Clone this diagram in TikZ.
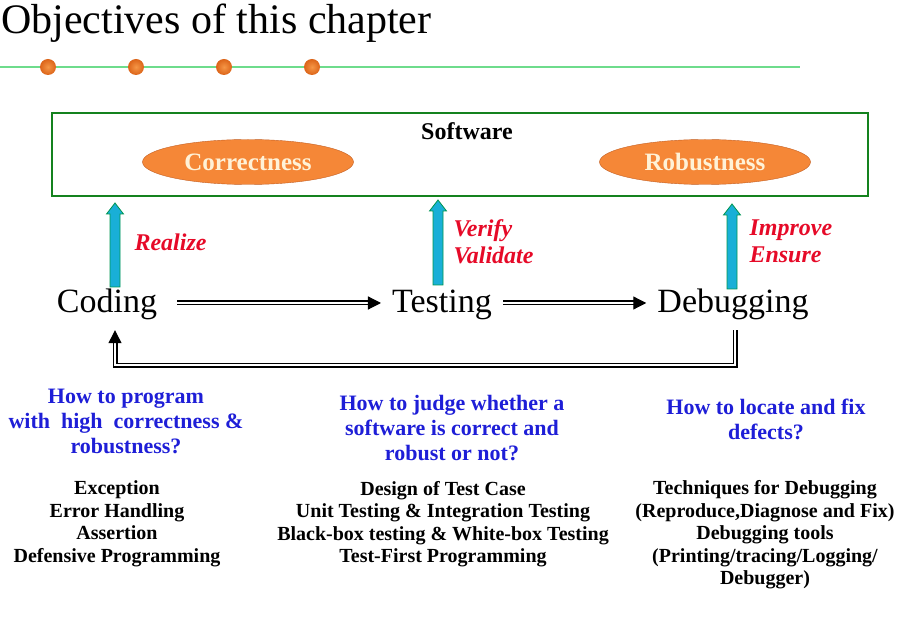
\documentclass[tikz,border=0pt]{standalone}
\usepackage{fontspec}
\setmainfont{Liberation Serif}
\usetikzlibrary{arrows.meta,shapes.geometric}

\definecolor{rulegreen}{RGB}{110,220,140}
\definecolor{boxgreen}{RGB}{20,130,30}
\definecolor{dotorange}{RGB}{220,100,25}
\definecolor{dotlight}{RGB}{245,150,70}
\definecolor{ovalfill}{RGB}{245,135,55}
\definecolor{ovalline}{RGB}{195,95,35}
\definecolor{ovaltext}{RGB}{255,242,215}
\definecolor{arrowcyan}{RGB}{25,175,215}
\definecolor{arrowline}{RGB}{0,150,80}
\definecolor{aimred}{RGB}{230,10,40}
\definecolor{askblue}{RGB}{30,30,215}

\begin{document}
\begin{tikzpicture}[x=1pt,y=-1pt,
		bead/.style={circle,shading=radial,inner color=dotlight,outer color=dotorange,minimum size=#1,inner sep=0pt},
		bead/.default=16pt,
		quality/.style={ellipse,draw=ovalline,fill=ovalfill,text=ovaltext,minimum width=211pt,minimum height=45pt,font=\fontsize{25}{29}\selectfont\bfseries},
		stage/.style={inner sep=11pt,text height=26pt,text depth=6pt,anchor=base,font=\fontsize{34}{40}\selectfont},
		upArrow/.style={draw=arrowline,fill=arrowcyan,line width=0.8pt},
		aim/.style={text=aimred,align=left,anchor=west,font=\fontsize{24}{27}\selectfont\bfseries\itshape},
		question/.style={text=askblue,align=center,font=\fontsize{22}{25}\selectfont\bfseries},
		topic/.style={align=center,font=\fontsize{20}{22.5}\selectfont\bfseries},
		flow/.style={double,double distance=2.6pt,line width=1.2pt,-{Triangle[length=13pt,width=13pt]}}]
		
		\useasboundingbox (0,0) rectangle (914,617);
		
		%heading
		\node[anchor=base west,inner sep=0pt,font=\fontsize{42}{48}\selectfont] (title) at (1,34) {Objectives of this chapter};
		\draw[rulegreen,line width=1.5pt] (0,67) -- (800,67);
		\foreach \x [count=\k] in {48,136,224,312}
		{
			\node[bead] (dot\k) at (\x,67) {};
		}
		
		%software box
		\node[draw=boxgreen,line width=2pt,minimum width=816pt,minimum height=83pt] (box) at (460,154.5) {};
		\node[font=\fontsize{24}{28}\selectfont\bfseries] (sw) at (467,131) {Software};
		\node[quality] (corr) at (248,162) {Correctness};
		\node[quality] (rob) at (705,162) {Robustness};
		
		%stages
		\node[stage] (cod) at (107,313) {Coding};
		\node[stage] (tes) at (442,313) {Testing};
		\node[stage] (deb) at (733,313) {Debugging};
		\draw[flow] ([xshift=9pt]cod.east) -- (tes.west);
		\draw[flow] (tes.east) -- (deb.west);
		\draw[flow] ([xshift=2pt]deb.south) -- ++(0,35) -| ([xshift=8pt]cod.south);
		
		%up arrows
		\foreach \x/\b/\t in {115/287/203,438/285/200,732/289/204}
		{
			\filldraw[upArrow] (\x-5,\b) -- (\x-5,\t+11) -- (\x-8.5,\t+11) -- (\x,\t) -- (\x+8.5,\t+11) -- (\x+5,\t+11) -- (\x+5,\b) -- cycle;
		}
		\node[aim] (codAim) at (131,242) {Realize};
		\node[aim] (tesAim) at (450,241.5) {Verify\\Validate};
		\node[aim] (debAim) at (746,241.5) {Improve\\Ensure};
		
		%questions
		\node[question] (q1) at (126,421) {How to program\\with\ \ high\ \ correctness \&\\robustness?};
		\node[question] (q2) at (452,428) {How to judge whether a\\software is correct and\\robust or not?};
		\node[question] (q3) at (766,419.5) {How to locate and fix\\defects?};
		
		%topics
		\node[topic] (t1) at (117,524) {Exception\\Error Handling\\Assertion\\Defensive Programming};
		\node[topic] (t2) at (443,524) {Design of Test Case\\Unit Testing \& Integration Testing\\Black-box testing \& White-box Testing\\Test-First Programming};
		\node[topic] (t3) at (765,535) {Techniques for Debugging\\(Reproduce,Diagnose and Fix)\\Debugging tools\\(Printing/tracing/Logging/\\Debugger)};
		
	\end{tikzpicture}
\end{document}
